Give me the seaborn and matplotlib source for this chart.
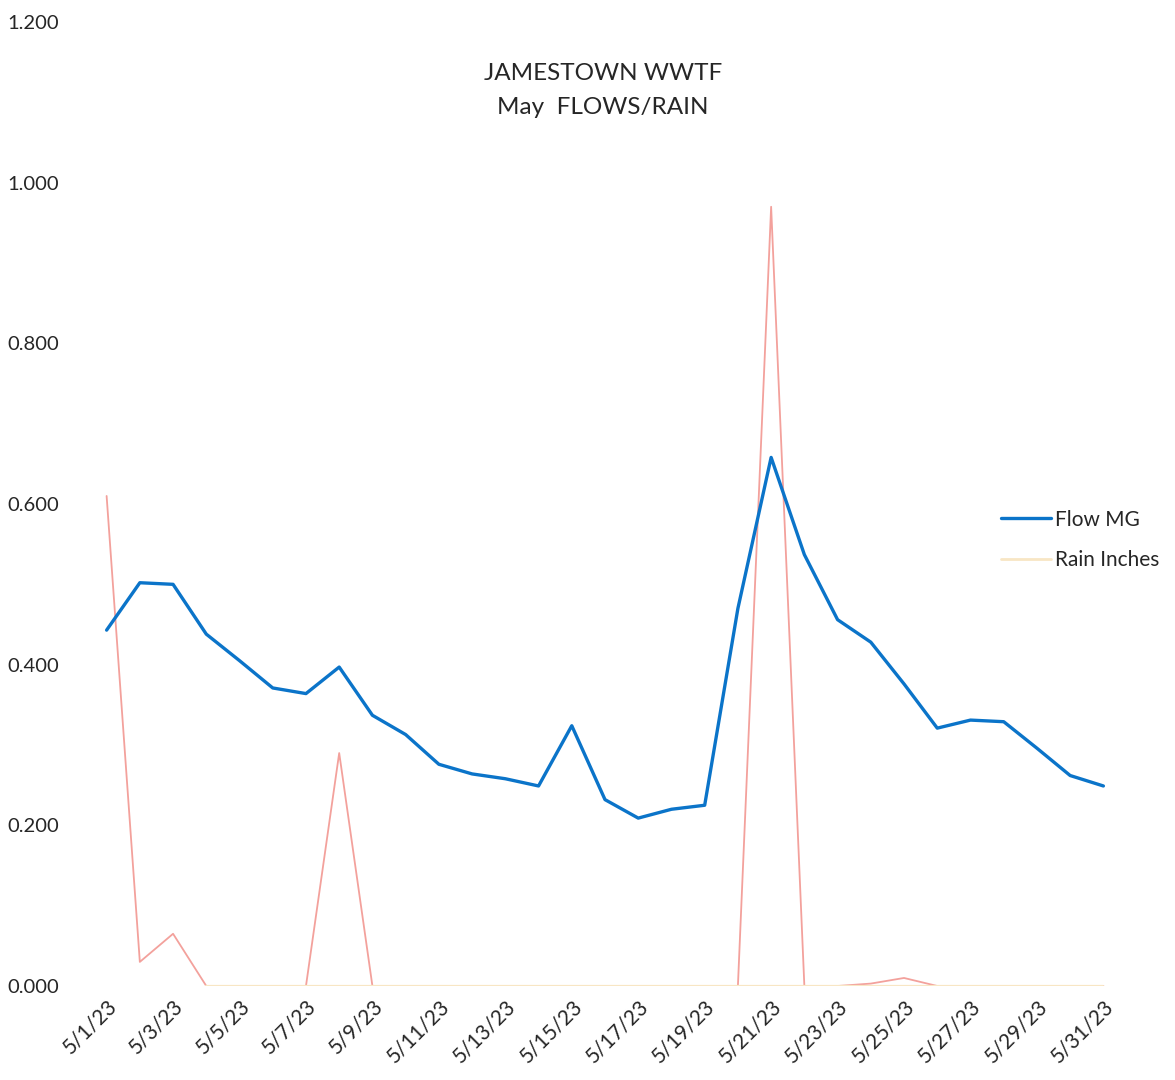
import numpy as np
import pandas as pd
import matplotlib
matplotlib.use("Agg")
import matplotlib.pyplot as plt
from matplotlib.lines import Line2D
import seaborn as sns

# Daily readings for May 2023
dates = [f"5/{d}/23" for d in range(1, 32)]
flow_mg = [0.443, 0.502, 0.500, 0.438, 0.405, 0.371, 0.364, 0.397, 0.337, 0.313,
           0.276, 0.264, 0.258, 0.249, 0.324, 0.232, 0.209, 0.220, 0.225, 0.470,
           0.658, 0.537, 0.456, 0.428, 0.376, 0.321, 0.331, 0.329, 0.296, 0.262,
           0.249]
rain_in = [0.61, 0.03, 0.065, 0.0, 0.0, 0.0, 0.0, 0.29, 0.0, 0.0,
           0.0, 0.0, 0.0, 0.0, 0.0, 0.0, 0.0, 0.0, 0.0, 0.0,
           0.97, 0.0, 0.0, 0.003, 0.01, 0.0, 0.0, 0.0, 0.0, 0.0,
           0.0]
y_ticks = [0.0, 0.2, 0.4, 0.6, 0.8, 1.0, 1.2]

df = pd.DataFrame({"day": np.arange(len(dates)), "date": dates,
                   "Flow MG": flow_mg, "Rain Inches": rain_in})
# dry days drawn in the paler tone along the baseline
df["Rain dry"] = df["Rain Inches"].where(df["Rain Inches"] == 0)

sns.set_style("white")
plt.rcParams["font.family"] = ["Lato", "DejaVu Sans"]

fig = plt.figure(figsize=(11.75, 10.8), dpi=100)
ax = fig.add_axes([90 / 1175, 1 - 986 / 1080, 1030 / 1175, 964 / 1080])

flow_color = "#0b74c9"
rain_color = "#f3a19c"
dry_color = "#f8e6c4"
text_color = "#262626"

sns.lineplot(data=df, x="day", y="Rain Inches", ax=ax, color=rain_color,
             linewidth=1.3, legend=False)
sns.lineplot(data=df, x="day", y="Rain dry", ax=ax, color=dry_color,
             linewidth=1.6, legend=False)
sns.lineplot(data=df, x="day", y="Flow MG", ax=ax, color=flow_color,
             linewidth=2.4, legend=False)

ax.set_xlim(-0.5, len(dates) - 0.5)
ax.set_ylim(0, 1.2)
ax.set_yticks(y_ticks)
ax.set_yticklabels([f"{v:.3f}" for v in y_ticks], fontsize=14.5, color=text_color)
ax.tick_params(axis="y", length=0, pad=22)

label_idx = list(range(0, len(dates), 2))
ax.set_xticks(label_idx)
ax.set_xticklabels([dates[i] for i in label_idx], rotation=45, ha="right",
                   rotation_mode="anchor", fontsize=15, color=text_color)
ax.tick_params(axis="x", length=3, color="#dddddd", pad=4)
ax.set_xlabel("")
ax.set_ylabel("")
for s in ax.spines.values():
    s.set_visible(False)

fig.text(603 / 1175, 1 - 73 / 1080, "JAMESTOWN WWTF", ha="center", va="center",
         fontsize=17.5, color=text_color)
fig.text(603 / 1175, 1 - 108 / 1080, "May  FLOWS/RAIN", ha="center", va="center",
         fontsize=17.5, color=text_color)

handles = [Line2D([], [], color=flow_color, linewidth=2.4),
           Line2D([], [], color=dry_color, linewidth=2.0)]
fig.legend(handles, ["Flow MG", "Rain Inches"], loc="center left",
           bbox_to_anchor=(982 / 1175, 1 - 540 / 1080), frameon=False,
           fontsize=15, labelcolor=text_color, handlelength=2.4,
           handletextpad=0.2, labelspacing=1.0)

fig.savefig("out.png", dpi=100, facecolor="white")
